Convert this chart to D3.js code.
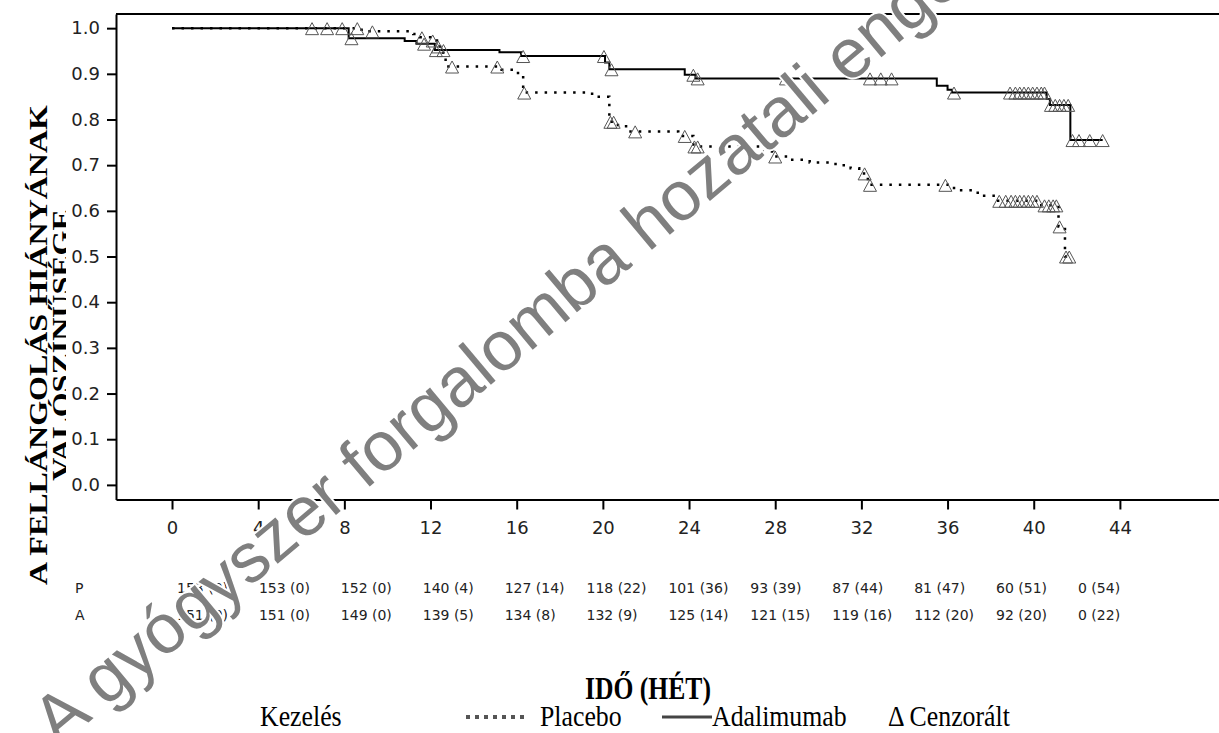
<!DOCTYPE html>
<html>
<head>
<meta charset="utf-8">
<script src="https://cdnjs.cloudflare.com/ajax/libs/d3/7.8.5/d3.min.js"></script>
<style>
body { margin: 0; background: #fff; }
svg { display: block; }
.axis text { font-family: 'DejaVu Sans', sans-serif; fill: #222; }
.axis path, .axis line { stroke: #000; stroke-width: 2; }
.risk { font-family: 'DejaVu Sans', sans-serif; font-size: 14px; fill: #222; }
.serif { font-family: 'Liberation Serif', 'Times New Roman', serif; fill: #000; }
</style>
</head>
<body>
<div id="vis"></div>
<script>
var width = 1219;
var height = 733;

// axis ticks
var weekTicks = [0, 4, 8, 12, 16, 20, 24, 28, 32, 36, 40, 44];
var survTicks = [0, 0.1, 0.2, 0.3, 0.4, 0.5, 0.6, 0.7, 0.8, 0.9, 1.0];

// Kaplan-Meier steps, placebo
var placeboTime = [0, 8.8, 11.2, 11.5, 12.0, 12.3, 12.5, 12.7, 15.3, 15.9, 16.3, 19.5, 20.3, 20.7,
    21.2, 23.5, 24.2, 27.4, 27.9, 28.6, 29.6, 30.8, 31.5, 31.9, 32.3, 36.3, 37.4, 38.2, 40.35,
    41.15, 41.45, 41.7];
var placeboSurv = [1.0, 0.993, 0.987, 0.980, 0.973, 0.960, 0.946, 0.916, 0.909, 0.902, 0.859, 0.850,
    0.795, 0.785, 0.774, 0.764, 0.741, 0.730, 0.719, 0.712, 0.706, 0.700, 0.693, 0.682, 0.657,
    0.645, 0.633, 0.622, 0.612, 0.566, 0.500, 0.500];
var placeboCensor = [6.5, 7.2, 7.9, 8.6, 9.3, 11.6, 12.1, 12.35, 13.0, 15.1, 16.35, 20.35, 20.5,
    21.5, 23.8, 24.25, 24.4, 28.0, 32.15, 32.4, 35.9, 38.4, 38.7, 38.95, 39.15, 39.35, 39.55,
    39.75, 39.95, 40.15, 40.5, 40.7, 40.9, 41.05, 41.2, 41.5, 41.65];

// Kaplan-Meier steps, adalimumab
var adaTime = [0, 8.2, 10.8, 11.35, 12.2, 15.2, 16.2, 20.1, 20.3, 23.8, 24.3, 35.5, 36.0, 36.2,
    40.6, 40.75, 41.7, 43.2];
var adaSurv = [1.0, 0.978, 0.972, 0.966, 0.952, 0.947, 0.939, 0.925, 0.910, 0.898, 0.890, 0.874,
    0.865, 0.859, 0.845, 0.832, 0.755, 0.755];
var adaCensor = [8.33, 11.7, 12.25, 12.6, 16.3, 20.05, 20.4, 24.2, 24.4, 28.5, 32.4, 32.9, 33.4,
    36.3, 38.9, 39.15, 39.35, 39.55, 39.75, 39.95, 40.15, 40.35, 40.5, 40.8, 41.0, 41.2, 41.4,
    41.6, 41.8, 42.1, 42.6, 43.2];

// number at risk (events)
var riskTimes = [0, 4, 8, 12, 16, 20, 24, 28, 32, 36, 40, 44];
var placeboRisk = ['153 (0)', '153 (0)', '152 (0)', '140 (4)', '127 (14)', '118 (22)', '101 (36)',
    '93 (39)', '87 (44)', '81 (47)', '60 (51)', '0 (54)'];
var adaRisk = ['151 (0)', '151 (0)', '149 (0)', '139 (5)', '134 (8)', '132 (9)', '125 (14)',
    '121 (15)', '119 (16)', '112 (20)', '92 (20)', '0 (22)'];

var svg = d3.select('#vis')
    .append('svg')
    .attr('width', width)
    .attr('height', height);

var x_scale = d3.scaleLinear()
    .domain([-2.6, 48.6])
    .range([116, 1219]);

var y_scale = d3.scaleLinear()
    .domain([-0.032, 1.031])
    .range([499.5, 14]);

var risk_scale = d3.scaleLinear()
    .domain([0, 44])
    .range([177, 1078]);

// y title (two lines, second one half hidden behind the tick labels)
svg.append('clipPath')
    .attr('id', 'ycut')
    .append('rect')
    .attr('x', 0).attr('y', 0)
    .attr('width', 66).attr('height', height);

var yTitle = ['A FELLÁNGOLÁS HIÁNYÁNAK', 'VALÓSZÍNŰSÉGE'];
var yTitleX = [47, 70];
yTitle.forEach(function(t, i) {
    var g = svg.append('g')
        .attr('clip-path', i == 1 ? 'url(#ycut)' : null)
        .append('g')
        .attr('transform', 'translate(' + yTitleX[i] + ',345) rotate(-90) scale(1,0.8)');
    g.append('text')
        .attr('class', 'serif')
        .attr('text-anchor', 'middle')
        .style('font-size', '32px')
        .style('font-weight', 'bold')
        .text(t);
});

// frame
svg.append('line')
    .attr('x1', x_scale.range()[0]).attr('x2', x_scale.range()[1])
    .attr('y1', y_scale.range()[1]).attr('y2', y_scale.range()[1])
    .attr('stroke', '#000')
    .attr('stroke-width', 2);

var y_axis = d3.axisLeft(y_scale)
    .tickValues(survTicks)
    .tickFormat(d3.format('.1f'))
    .tickSize(9)
    .tickSizeOuter(0)
    .tickPadding(7);

var x_axis = d3.axisBottom(x_scale)
    .tickValues(weekTicks)
    .tickFormat(d3.format('d'))
    .tickSize(10)
    .tickSizeOuter(0)
    .tickPadding(12);

svg.append('g')
    .attr('class', 'y axis')
    .attr('transform', 'translate(' + x_scale.range()[0] + ',0)')
    .call(y_axis)
    .selectAll('text')
    .style('font-size', '18px');

svg.append('g')
    .attr('class', 'x axis')
    .attr('transform', 'translate(0,' + y_scale.range()[0] + ')')
    .call(x_axis)
    .selectAll('text')
    .style('font-size', '18px');

// curves
function steps(times, surv) {
    return times.map(function(t, i) {
        return {t: t, s: surv[i]};
    });
}

function survAt(times, surv, t) {
    var s = surv[0];
    for (var i = 0; i < times.length; i++) {
        if (times[i] <= t) s = surv[i];
    }
    return s;
}

var line = d3.line()
    .curve(d3.curveStepAfter)
    .x(function(d) { return x_scale(d.t); })
    .y(function(d) { return y_scale(d.s); });

svg.append('path')
    .datum(steps(adaTime, adaSurv))
    .attr('d', line)
    .attr('fill', 'none')
    .attr('stroke', '#000')
    .attr('stroke-width', 2);

svg.append('path')
    .datum(steps(placeboTime, placeboSurv))
    .attr('d', line)
    .attr('fill', 'none')
    .attr('stroke', '#000')
    .attr('stroke-width', 2.5)
    .attr('stroke-dasharray', '2.5,7');

// censor triangles
var triangle = {
    draw: function(context, size) {
        var w = Math.sqrt(size) / 2;
        context.moveTo(0, -w * 0.85);
        context.lineTo(w, w);
        context.lineTo(-w, w);
        context.closePath();
    }
};
var symbol = d3.symbol().type(triangle).size(169);

function drawCensor(times, stepT, stepS) {
    svg.append('g')
        .selectAll('path')
        .data(times)
        .enter()
        .append('path')
        .attr('d', symbol)
        .attr('transform', function(d) {
            return 'translate(' + x_scale(d) + ',' + y_scale(survAt(stepT, stepS, d)) + ')';
        })
        .attr('fill', 'none')
        .attr('stroke', '#555')
        .attr('stroke-width', 1);
}
drawCensor(placeboCensor, placeboTime, placeboSurv);
drawCensor(adaCensor, adaTime, adaSurv);

// number at risk table
var rows = [['P', placeboRisk, 588], ['A', adaRisk, 615]];
rows.forEach(function(r) {
    svg.append('text')
        .attr('class', 'risk')
        .attr('x', 75)
        .attr('y', r[2])
        .attr('dy', '0.36em')
        .text(r[0]);
    svg.append('g')
        .selectAll('text')
        .data(r[1])
        .enter()
        .append('text')
        .attr('class', 'risk')
        .attr('x', function(d, i) { return risk_scale(riskTimes[i]); })
        .attr('y', r[2])
        .attr('dy', '0.36em')
        .text(function(d) { return d; });
});

// x title and legend
function serifText(x, y, txt, anchor, bold, size, sx) {
    svg.append('g')
        .attr('transform', 'translate(' + x + ',' + y + ') scale(' + sx + ',1)')
        .append('text')
        .attr('class', 'serif')
        .attr('text-anchor', anchor)
        .style('font-size', size + 'px')
        .style('font-weight', bold ? 'bold' : 'normal')
        .text(txt);
}

serifText(648, 699, 'IDŐ (HÉT)', 'middle', true, 32, 0.8);
serifText(260, 726, 'Kezelés', 'start', false, 30, 0.86);
serifText(540, 726, 'Placebo', 'start', false, 30, 0.86);
serifText(712, 726, 'Adalimumab', 'start', false, 30, 0.86);
serifText(888, 726, 'Δ Cenzorált', 'start', false, 30, 0.86);

svg.append('line')
    .attr('x1', 466).attr('x2', 528)
    .attr('y1', 717).attr('y2', 717)
    .attr('stroke', '#555')
    .attr('stroke-width', 4)
    .attr('stroke-dasharray', '4,5');

svg.append('line')
    .attr('x1', 662).attr('x2', 712)
    .attr('y1', 717).attr('y2', 717)
    .attr('stroke', '#444')
    .attr('stroke-width', 3);

// watermark
svg.append('text')
    .attr('transform', 'translate(58,748) rotate(-40)')
    .style('font-family', "'Liberation Sans', Arial, sans-serif")
    .style('font-size', '70px')
    .attr('fill', '#7f7f7f')
    .attr('stroke', '#fff')
    .attr('stroke-width', 4)
    .style('paint-order', 'stroke')
    .text('A gyógyszer forgalomba hozatali engedélye megszűnt');
</script>
</body>
</html>
